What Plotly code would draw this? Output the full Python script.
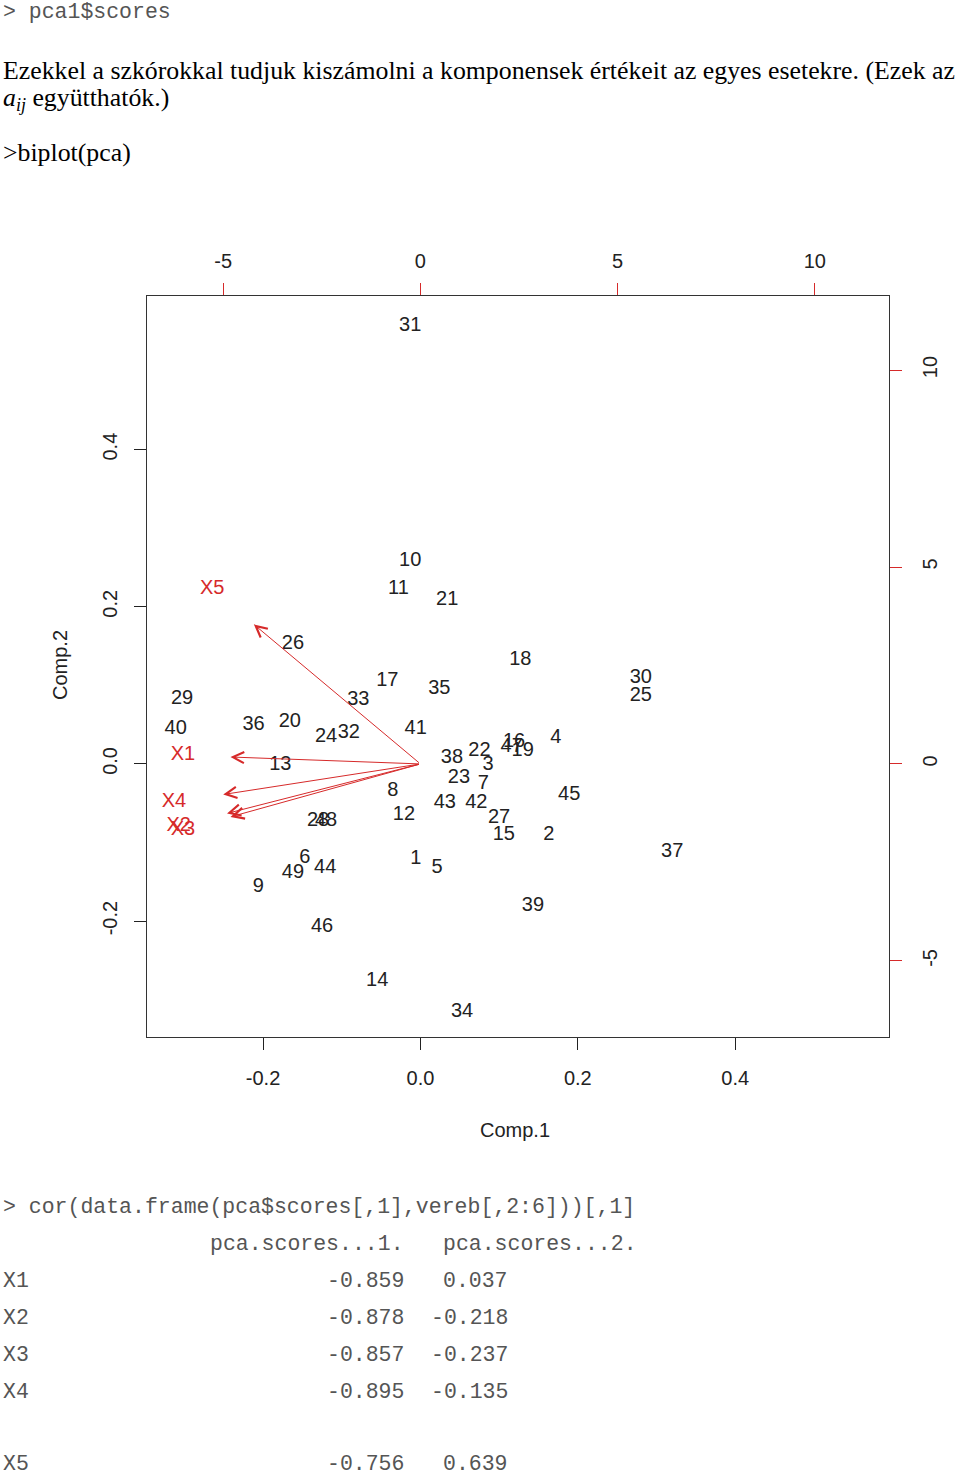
"""PCA biplot (R biplot(pca) style) on a document page."""

import plotly.graph_objects as go

W, H = 960, 1477

# scores of the 49 observations (Comp.1, Comp.2)
obs_ids = [str(i) for i in range(1, 50)]
score_pc1 = [
    -0.006, 0.163, 0.086, 0.172, 0.021, -0.147, 0.080, -0.035, -0.206, -0.013,
    -0.028, -0.021, -0.178, -0.055, 0.106, 0.119, -0.042, 0.127, 0.130, -0.166,
    0.034, 0.075, 0.049, -0.120, 0.280, -0.162, 0.100, -0.130, -0.303, 0.280,
    -0.013, -0.091, -0.079, 0.053, 0.024, -0.212, 0.320, 0.040, 0.143, -0.311,
    -0.006, 0.071, 0.031, -0.121, 0.189, -0.125, 0.116, -0.120, -0.162,
]
score_pc2 = [
    -0.121, -0.090, -0.001, 0.033, -0.133, -0.120, -0.025, -0.035, -0.157, 0.258,
    0.223, -0.065, -0.001, -0.276, -0.091, 0.028, 0.105, 0.132, 0.017, 0.053,
    0.208, 0.017, -0.018, 0.034, 0.087, 0.153, -0.069, -0.073, 0.083, 0.110,
    0.557, 0.039, 0.082, -0.316, 0.096, 0.049, -0.112, 0.007, -0.181, 0.044,
    0.044, -0.050, -0.050, -0.133, -0.040, -0.208, 0.021, -0.072, -0.139,
]

# variable loadings as drawn by biplot (label positions, top/right scale)
var_names = ["X1", "X2", "X3", "X4", "X5"]
load_pc1 = [-6.02, -6.13, -6.02, -6.25, -5.28]
load_pc2 = [0.22, -1.57, -1.68, -0.97, 4.43]

# correlation table printed below the plot
corr_pc1 = [-0.859, -0.878, -0.857, -0.895, -0.756]
corr_pc2 = [0.037, -0.218, -0.237, -0.135, 0.639]

comp_ticks = [-0.2, 0.0, 0.2, 0.4]
load_ticks = [-5, 0, 5, 10]
comp_range = [-0.3475, 0.5955]
ratio = 19.95

RED = "#d62a2a"
INK = "#222222"
SANS = "Liberation Sans, Arial, sans-serif"
SERIF = "Liberation Serif, Times New Roman, serif"
MONO = "Liberation Mono, Courier New, monospace"


def px(x):
    return x / W


def py(y):
    return 1 - y / H


fig = go.Figure()

fig.add_trace(go.Scatter(
    x=score_pc1, y=score_pc2, text=obs_ids, mode="text",
    textfont=dict(family=SANS, size=20, color=INK),
    cliponaxis=False, hoverinfo="skip", xaxis="x", yaxis="y",
))
fig.add_trace(go.Scatter(
    x=load_pc1, y=load_pc2, text=var_names, mode="text",
    textfont=dict(family=SANS, size=20, color=RED),
    cliponaxis=False, hoverinfo="skip", xaxis="x2", yaxis="y2",
))

# arrows go to 0.8 of the loading, as in R's biplot
for lx, ly in zip(load_pc1, load_pc2):
    fig.add_annotation(
        x=0.8 * lx, y=0.8 * ly, ax=0, ay=0,
        xref="x2", yref="y2", axref="x2", ayref="y2",
        text="", showarrow=True, arrowhead=5, arrowsize=2.2,
        arrowwidth=1, arrowcolor=RED, standoff=0,
    )

tick_font = dict(family=SANS, size=20, color=INK)
fig.update_layout(
    width=W, height=H,
    margin=dict(l=0, r=0, t=0, b=0),
    paper_bgcolor="white", plot_bgcolor="white",
    showlegend=False,
    xaxis=dict(
        domain=[px(147), px(889)], range=comp_range, anchor="y",
        tickvals=comp_ticks, ticktext=[f"{t:.1f}" for t in comp_ticks],
        ticks="outside", ticklen=12, tickcolor=INK, tickfont=tick_font,
        ticklabelstandoff=11,
        showline=True, mirror=True, linecolor="#333", linewidth=1.2,
        showgrid=False, zeroline=False,
    ),
    yaxis=dict(
        domain=[py(1037), py(296)], range=comp_range, anchor="x",
        tickvals=comp_ticks, ticktext=[f"{t:.1f}" for t in comp_ticks],
        ticks="outside", ticklen=12, tickcolor=INK, tickfont=tick_font,
        tickangle=-90, ticklabelstandoff=9,
        showline=True, mirror=True, linecolor="#333", linewidth=1.2,
        showgrid=False, zeroline=False,
    ),
    xaxis2=dict(
        overlaying="x", side="top", anchor="y2",
        range=[comp_range[0] * ratio, comp_range[1] * ratio],
        tickvals=load_ticks, ticktext=[str(t) for t in load_ticks],
        ticks="outside", ticklen=12, tickcolor=RED,
        tickfont=tick_font, ticklabelstandoff=7,
        showline=False, showgrid=False, zeroline=False,
    ),
    yaxis2=dict(
        overlaying="y", side="right", anchor="x2",
        range=[comp_range[0] * ratio, comp_range[1] * ratio],
        tickvals=load_ticks, ticktext=[str(t) for t in load_ticks],
        ticks="outside", ticklen=12, tickcolor=RED,
        tickfont=tick_font, tickangle=-90, ticklabelstandoff=11,
        showline=False, showgrid=False, zeroline=False,
    ),
)

# axis titles
fig.add_annotation(x=px(515), y=py(1130), xref="paper", yref="paper",
                   text="Comp.1", showarrow=False, font=tick_font,
                   yanchor="middle")
fig.add_annotation(x=px(60), y=py(665), xref="paper", yref="paper",
                   text="Comp.2", textangle=-90, showarrow=False, font=tick_font,
                   xanchor="center")


def page_text(x, y, text, font, anchor="left"):
    fig.add_annotation(x=px(x), y=py(y), xref="paper", yref="paper",
                       text=text, showarrow=False, xanchor=anchor,
                       yanchor="middle", font=font, borderpad=0)


mono = dict(family=MONO, size=21.5, color="#555")
serif = dict(family=SERIF, size=25.8, color="black")

page_text(2, 12, "&gt; pca1$scores", mono)
page_text(2, 70, "Ezekkel a szkórokkal tudjuk kiszámolni a komponensek értékeit "
                 "az egyes esetekre. (Ezek az", serif)
page_text(2, 99, "<i>a</i><sub><i>ij</i></sub> együtthatók.)", serif)
page_text(2, 153, "&gt;biplot(pca)", serif)

page_text(2, 1207, "&gt; cor(data.frame(pca$scores[,1],vereb[,2:6]))[,1]", mono)
page_text(209, 1244, "pca.scores...1.", mono)
page_text(442, 1244, "pca.scores...2.", mono)
row_y = [1281, 1318, 1355, 1392, 1464]
for name, c1, c2, y in zip(var_names, corr_pc1, corr_pc2, row_y):
    page_text(2, y, name, mono)
    page_text(405, y, f"{c1:.3f}", mono, anchor="right")
    page_text(509, y, f"{c2:.3f}", mono, anchor="right")

# the page is laid out edge to edge, so drop the browser's body margin
fig.write_html(
    "out.html",
    config={"displayModeBar": False},
    post_script="document.body.style.margin = '0';",
)
